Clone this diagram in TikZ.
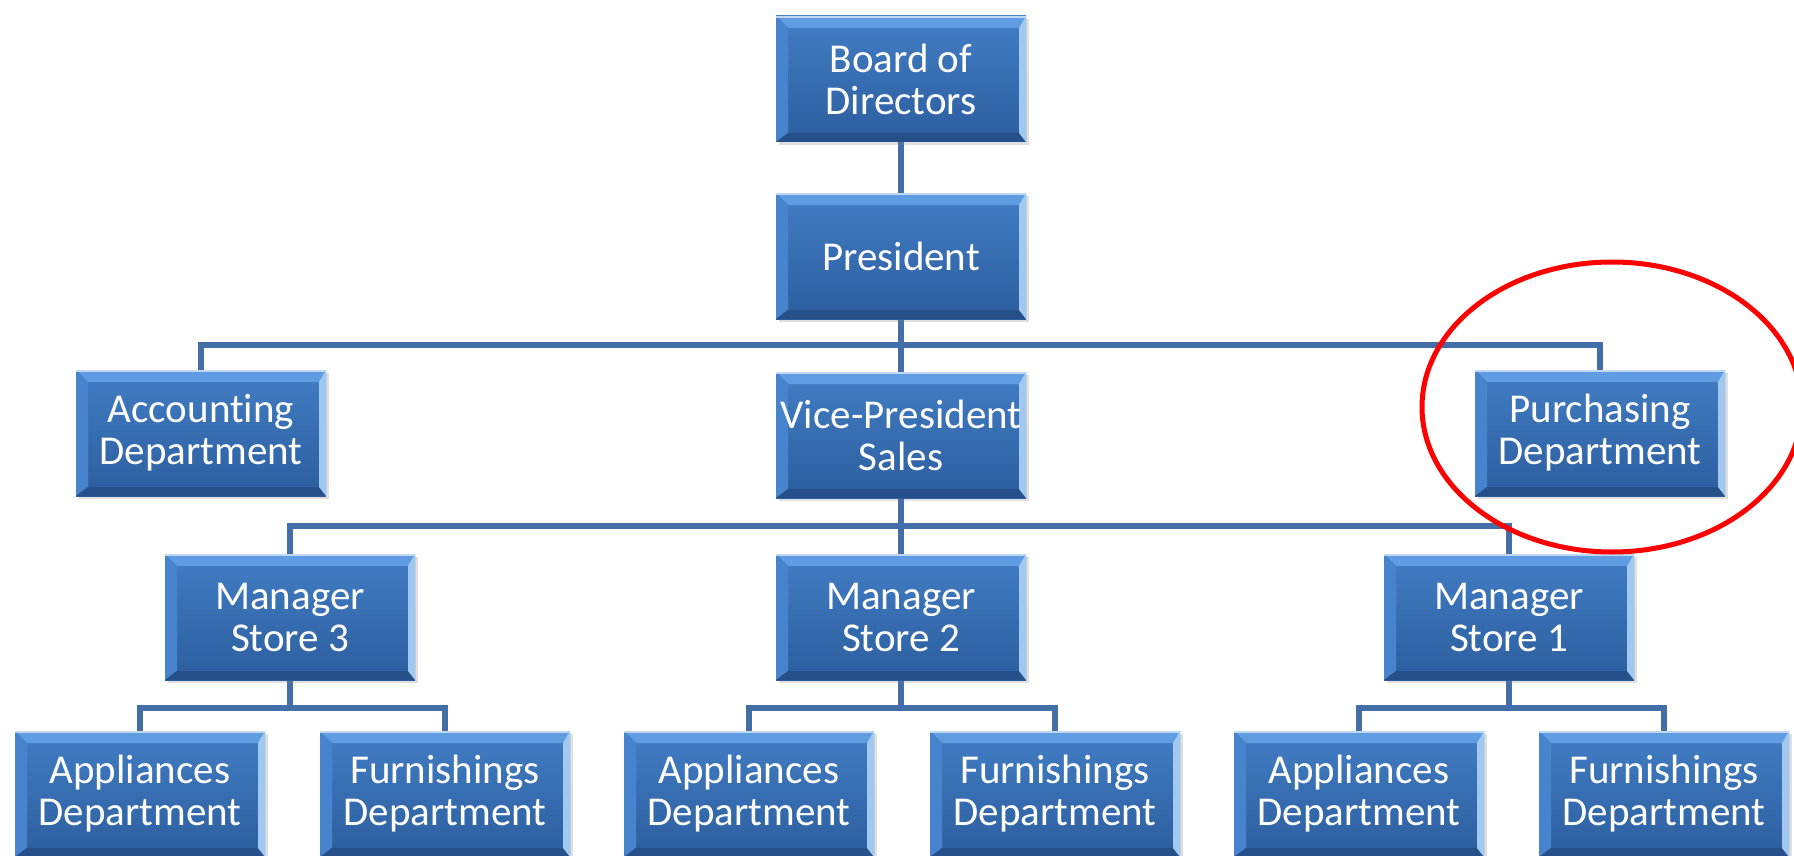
\documentclass[tikz,border=0pt]{standalone}
\usepackage{fontspec}
\setmainfont{Carlito}[Ligatures=NoCommon]
\usetikzlibrary{calc, shadows, backgrounds}

\definecolor{facetop}{RGB}{66,125,196}
\definecolor{facebot}{RGB}{44,94,158}
\definecolor{bevtop}{RGB}{96,156,225}
\definecolor{bevleft}{RGB}{72,132,205}
\definecolor{bevright}{RGB}{160,200,240}
\definecolor{bevbot}{RGB}{38,80,138}
\definecolor{linkblue}{RGB}{68,110,168}
\newcommand\boxfont{\fontsize{41}{42}\selectfont}

\tikzset{
  unit/.style={minimum width=250pt, minimum height=126pt, inner sep=0pt,
    align=center, text=white, font=\boxfont,
    top color=facetop, bottom color=facebot,
    drop shadow={opacity=0.25, shadow xshift=3pt, shadow yshift=-3pt},
    path picture={
      % bevelled edges of the box
      \fill[bevtop] (path picture bounding box.north west)
        -- (path picture bounding box.north east)
        -- ([shift={(-7pt,-12pt)}]path picture bounding box.north east)
        -- ([shift={(12pt,-12pt)}]path picture bounding box.north west) -- cycle;
      \fill[bevleft] (path picture bounding box.north west)
        -- ([shift={(12pt,-12pt)}]path picture bounding box.north west)
        -- ([shift={(12pt,9pt)}]path picture bounding box.south west)
        -- (path picture bounding box.south west) -- cycle;
      \fill[bevbot] (path picture bounding box.south west)
        -- ([shift={(12pt,9pt)}]path picture bounding box.south west)
        -- ([shift={(-7pt,9pt)}]path picture bounding box.south east)
        -- (path picture bounding box.south east) -- cycle;
      \fill[bevright] (path picture bounding box.north east)
        -- ([shift={(-7pt,-12pt)}]path picture bounding box.north east)
        -- ([shift={(-7pt,9pt)}]path picture bounding box.south east)
        -- (path picture bounding box.south east) -- cycle;
      \draw[line width=2pt, white!60!bevtop] ([yshift=-1pt]path picture bounding box.north west)
        -- ([yshift=-1pt]path picture bounding box.north east);
    }},
  link/.style={line width=6pt, linkblue}
}

\begin{document}
\begin{tikzpicture}[x=1pt, y=-1pt]
  \useasboundingbox (0,0) rectangle (1794,856);
  % top
  \node[unit] (board) at (901,79) {Board of\\Directors};
  \node[unit] (pres) at (901,256) {President};
  % staff and vice-president
  \node[unit] (acct) at (201,433) {Accounting\\Department};
  \node[unit] (vp) at (901,435) {Vice-President\\Sales};
  \node[unit] (purch) at (1600,433) {Purchasing\\Department};
  % store managers
  \foreach \n/\x in {3/290, 2/901, 1/1509}
    \node[unit] (man\n) at (\x,617) {Manager\\Store \n};
  % departments
  \foreach \n/\a/\f in {3/140/445, 2/749/1055, 1/1359/1664} {
    \node[unit] (app\n) at (\a,794) {Appliances\\Department};
    \node[unit] (furn\n) at (\f,794) {Furnishings\\Department};
  }
  % bus heights
  \coordinate (bus1) at (901,345);
  \coordinate (bus2) at (901,526);
  \begin{scope}[on background layer]
    \fill[white] (0,0) rectangle (1794,856);
    \draw[link] (board) -- (pres);
    \draw[link] (pres) -- (vp);
    \draw[link] (acct.north) |- (bus1) -| (purch.north);
    \draw[link] (vp) -- (man2);
    \draw[link] (man3.north) |- (bus2) -| (man1.north);
    \foreach \n in {3,2,1} {
      \coordinate (bus\n b) at ($(man\n.south)+(0,28)$);
      \draw[link] (man\n) -- (bus\n b);
      \draw[link] (app\n.north) |- (bus\n b) -| (furn\n.north);
    }
  \end{scope}
  % highlight
  \draw[red, line width=5pt] (1612,407) ellipse [x radius=190, y radius=145];
\end{tikzpicture}
\end{document}
